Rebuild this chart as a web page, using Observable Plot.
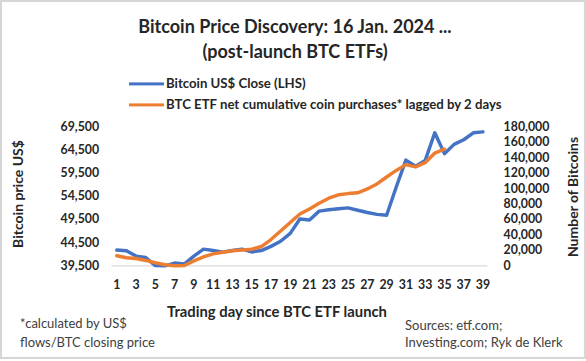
<!DOCTYPE html>
<html>
<head>
<meta charset="utf-8">
<script src="https://cdn.jsdelivr.net/npm/d3@7"></script>
<script src="https://cdn.jsdelivr.net/npm/@observablehq/plot@0.6"></script>
<style>
  html, body { margin: 0; padding: 0; background: #fff; }
  #frame { position: relative; width: 586px; height: 359px; box-sizing: border-box;
           border: 2px solid #d6d6d6; overflow: hidden; font-family: Lato, "Open Sans", sans-serif; color: #262626; }
  #chart { position: absolute; left: -2px; top: -2px; }
  .t { position: absolute; white-space: nowrap; line-height: 1; }
  .c { transform: translate(-50%, -50%); }
  .l { transform: translateY(-50%); }
  .r { transform: translate(-50%, -50%) rotate(-90deg); }
  .sw { display: inline-block; width: 35px; height: 3.5px; vertical-align: middle; margin-right: 2px; position: relative; top: -1px; }
</style>
</head>
<body>
<div id="frame"></div>
<script>
// ---- data ----
const days = [1,2,3,4,5,6,7,8,9,10,11,12,13,14,15,16,17,18,19,20,21,22,23,24,25,26,27,28,29,30,31,32,33,34,35,36,37,38,39];
const btcClose = [42900,42750,41600,41300,39550,39500,40100,39900,41600,43100,42800,42450,42800,43100,42500,42800,43700,44800,46500,49600,49400,51300,51600,51800,52000,51500,51000,50600,50400,56500,62300,61000,62200,68200,63700,65700,66700,68200,68400];
const etfCoins = [13000,10500,9500,7000,4000,1500,200,500,6500,11500,15500,17500,19500,20500,21500,25000,34000,45000,56000,67000,73500,81000,87500,92000,93500,94500,99500,106000,115000,123500,131000,128000,133500,146000,151000];
const xTicks = [1,3,5,7,9,11,13,15,17,19,21,23,25,27,29,31,33,35,37,39];
const priceTicks = [39500,44500,49500,54500,59500,64500,69500];
const coinTicks = [0,20000,40000,60000,80000,100000,120000,140000,160000,180000];
const seriesNames = ["Bitcoin US$ Close (LHS)", "BTC ETF net cumulative coin purchases* lagged by 2 days"];
const colors = ["#4472C4", "#ED7D31"];

const priceMin = 39500, priceMax = 69500, coinMax = 180000;
const coinToPrice = c => priceMin + c / coinMax * (priceMax - priceMin);
const priceToCoin = p => Math.round((p - priceMin) / (priceMax - priceMin) * coinMax);
const fmt = d3.format(",");

const chart = Plot.plot({
  width: 590, height: 365,
  marginTop: 128, marginBottom: 96, marginLeft: 113, marginRight: 96,
  x: {domain: [0.5, 39.5]},
  y: {domain: [priceMin, priceMax]},
  style: {fontFamily: "Lato, 'Open Sans', sans-serif", fontSize: "12px", color: "#262626", background: "transparent"},
  marks: [
    Plot.ruleY([priceMin], {stroke: "#d9d9d9", strokeWidth: 1.2}),
    Plot.axisX({ticks: xTicks, tickSize: 0, tickPadding: 15, tickFormat: d => String(d), label: null, fontWeight: "bold", fontSize: 12.5}),
    Plot.axisY({ticks: priceTicks, tickSize: 0, tickPadding: 13, tickFormat: fmt, label: null, fontWeight: "bold", fontSize: 12.5}),
    Plot.axisY({anchor: "right", ticks: coinTicks.map(coinToPrice), tickSize: 0, tickPadding: 16,
                tickFormat: p => fmt(priceToCoin(p)), label: null, fontWeight: "bold", fontSize: 12.5}),
    Plot.line(btcClose, {x: (d, i) => days[i], y: d => d, stroke: colors[0], strokeWidth: 3.5, strokeLinejoin: "round", strokeLinecap: "round"}),
    Plot.line(etfCoins, {x: (d, i) => days[i], y: d => coinToPrice(d), stroke: colors[1], strokeWidth: 3.5, strokeLinejoin: "round", strokeLinecap: "round"})
  ]
});
chart.id = "chart";
const frame = document.getElementById("frame");
frame.appendChild(chart);

function addText(html, cls, x, y, style) {
  const el = document.createElement("div");
  el.className = "t " + cls;
  el.innerHTML = html;
  el.style.left = (x - 2) + "px";
  el.style.top = (y - 2) + "px";
  Object.assign(el.style, style || {});
  frame.appendChild(el);
  return el;
}
addText("Bitcoin Price Discovery: 16 Jan. 2024 ...", "c", 295, 26, {fontWeight: "bold", fontSize: "18px"});
addText("(post-launch BTC ETFs)", "c", 295, 51, {fontWeight: "bold", fontSize: "18px"});
addText(`<span class="sw" style="background:${colors[0]}"></span>${seriesNames[0]}`, "l", 129, 84, {fontWeight: "bold", fontSize: "13.2px"});
addText(`<span class="sw" style="background:${colors[1]}"></span>${seriesNames[1]}`, "l", 129, 105, {fontWeight: "bold", fontSize: "13.2px"});
addText("Bitcoin price US$", "r", 18, 194, {fontWeight: "bold", fontSize: "14px"});
addText("Number of Bitcoins", "r", 573, 197, {fontWeight: "bold", fontSize: "14px"});
addText("Trading day since BTC ETF launch", "c", 277, 311, {fontWeight: "bold", fontSize: "14.8px"});
addText("*calculated by US$", "l", 20, 323, {fontSize: "13px", color: "#404040"});
addText("flows/BTC closing price", "l", 20, 342, {fontSize: "13px", color: "#404040"});
addText("Sources: etf.com;", "l", 405, 325, {fontSize: "13px", color: "#404040"});
addText("Investing.com; Ryk de Klerk", "l", 405, 342, {fontSize: "13px", color: "#404040"});
</script>
</body>
</html>
